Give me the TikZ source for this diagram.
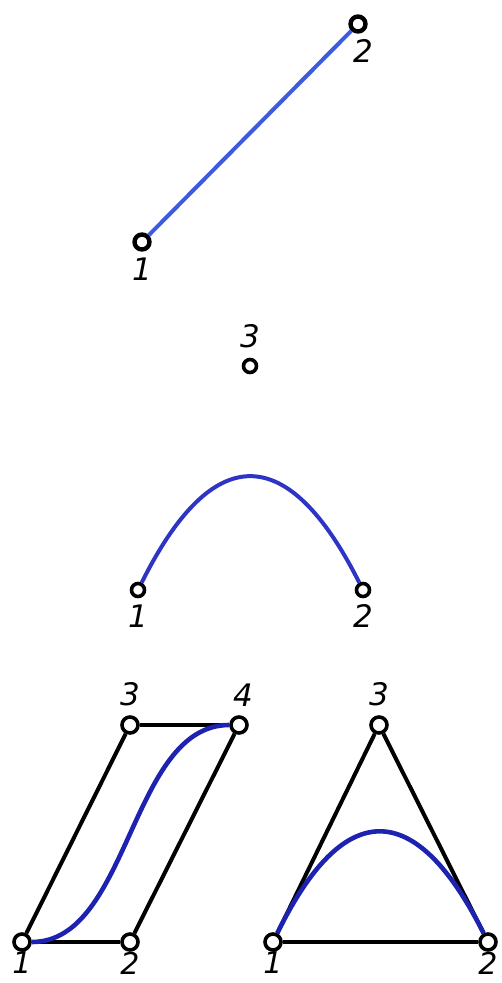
\documentclass[tikz,border=0pt]{standalone}
\usepackage{fontspec}
\setmainfont{DejaVu Sans}
\usetikzlibrary{calc,positioning}
\definecolor{AzulClaro}{HTML}{3D5BE0}
\definecolor{AzulMedio}{HTML}{2E34C4}
\definecolor{AzulOscuro}{HTML}{1E22B0}

\begin{document}
\begin{tikzpicture}[x=1pt,y=-1pt,label distance=6pt,
  every label/.style={font=\fontsize{31}{31}\selectfont\itshape,inner sep=0pt},
  nodo/.style={circle,draw,fill=white,inner sep=0pt,minimum size=16pt,line width=3.6pt},
  nodoA/.style={nodo,minimum size=15pt,line width=4.4pt},
  nodoB/.style={nodo,minimum size=13pt,line width=3.6pt},
  abajo/.style={label={[label distance=0pt,font=\fontsize{30}{30}\selectfont\itshape]below:#1}},
  arista/.style={line width=4pt},
  curva/.style={line width=4pt}]
\useasboundingbox (0,0) rectangle (501,983);
% segmento
\node[nodoA,label={below:1}] (t1) at (142,242) {};
\node[nodoA,label={[xshift=5pt]below:2}] (t2) at (358,24) {};
\draw[curva,AzulClaro] (t1)--(t2);
% cuadratica
\node[nodoB,label={[label distance=10pt]above:3}] (m3) at (250,366) {};
\node[nodoB,label={below:1}] (m1) at (138,590) {};
\node[nodoB,label={below:2}] (m2) at (363,590) {};
\draw[curva,AzulMedio] (m1) .. controls ($(m1.center)!2/3!(m3.center)$) and ($(m2.center)!2/3!(m3.center)$) .. (m2);
% cubica
\node[nodo,abajo=1] (p1) at (22,942) {};
\node[nodo,abajo=2] (p2) at (130,942) {};
\node[nodo,label={[label distance=9pt]above:3}] (p3) at (130,725) {};
\node[nodo,label={[label distance=9pt,xshift=4pt]above:4}] (p4) at (239,725) {};
\draw[arista] (p1)--(p2); \draw[arista] (p2)--(p4);
\draw[arista] (p3)--(p4); \draw[arista] (p1)--(p3);
\draw[curva,line width=4.6pt,AzulOscuro] (p1) .. controls (p2.center) and (p3.center) .. (p4);
% triangulo
\node[nodo,abajo=1] (q1) at (273,942) {};
\node[nodo,abajo=2] (q2) at (488,942) {};
\node[nodo,label={[label distance=9pt]above:3}] (q3) at (379,725) {};
\draw[arista] (q1)--(q2); \draw[arista] (q2)--(q3); \draw[arista] (q3)--(q1);
\draw[curva,line width=4.6pt,AzulOscuro] (q1) .. controls ($(q1.center)!2/3!(q3.center)$) and ($(q2.center)!2/3!(q3.center)$) .. (q2);
\end{tikzpicture}
\end{document}
